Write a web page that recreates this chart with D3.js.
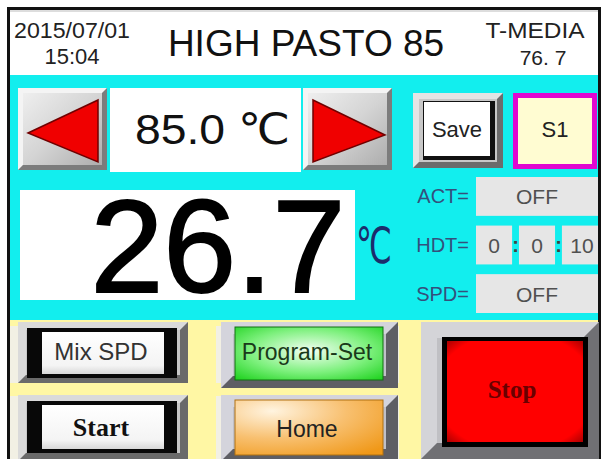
<!DOCTYPE html>
<html><head><meta charset="utf-8">
<script src="https://cdn.jsdelivr.net/npm/d3@7/dist/d3.min.js"></script>
<style>html,body{margin:0;padding:0;background:#fff;}svg{display:block;}</style>
</head><body>
<svg id="c" width="601" height="459"></svg>
<script>
// ---- data ----
const headerDate = ["2015/07/01", "15:04"];
const titleText = ["HIGH PASTO 85"];
const mediaInfo = ["T-MEDIA", "76. 7"];
const setpoint = [85.0];
const currentTemp = [26.7];
const unitLabel = ["℃"];
const statusLabels = ["ACT=", "HDT=", "SPD="];
const statusValues = ["OFF", null, "OFF"];
const hdtValues = ["0", "0", "10"];
const smallButtons = ["Save", "S1"];
const leftButtons = ["Mix SPD", "Start"];
const midButtons = ["Program-Set", "Home"];
const stopButton = ["Stop"];

// ---- drawing ----
const svg = d3.select("#c");
const defs = svg.append("defs");
const F = "'Liberation Sans', Arial, 'DejaVu Sans', sans-serif";
const FS = "'Liberation Serif', 'Times New Roman', serif";

function lin(id, stops, x1=0,y1=0,x2=1,y2=1){
  const g = defs.append("linearGradient").attr("id",id).attr("x1",x1).attr("y1",y1).attr("x2",x2).attr("y2",y2);
  stops.forEach(s=>g.append("stop").attr("offset",s[0]).attr("stop-color",s[1]));
}
function rad(id, stops, cx=0.5, cy=0.5, r=0.7){
  const g = defs.append("radialGradient").attr("id",id).attr("cx",cx).attr("cy",cy).attr("r",r);
  stops.forEach(s=>g.append("stop").attr("offset",s[0]).attr("stop-color",s[1]));
}
lin("arrowFace", [[0,"#f2f2f2"],[0.5,"#d4d4d4"],[1,"#a8a8a8"]]);
rad("greenFace", [[0,"#f4fff4"],[0.55,"#7cf07c"],[1,"#18d018"]], 0.5, 0.45, 0.75);
rad("orangeFace", [[0,"#fff4e0"],[0.5,"#f8c070"],[1,"#f09818"]], 0.25, 0.2, 1.0);
rad("redFace", [[0,"#ff0000"],[0.82,"#ff0000"],[1,"#a00000"]], 0.5, 0.5, 0.72);
lin("whiteFace", [[0,"#ffffff"],[0.8,"#f4f4f4"],[1,"#d8d8d8"]], 0,0,0,1);

function bevel(x,y,w,h,t,light,dark,face){
  const g = svg.append("g");
  g.append("rect").attr("x",x).attr("y",y).attr("width",w).attr("height",h).attr("fill",face);
  g.append("polygon").attr("points",[[x,y],[x+w,y],[x+w-t,y+t],[x+t,y+t],[x+t,y+h-t],[x,y+h]].join(" ")).attr("fill",light);
  g.append("polygon").attr("points",[[x+w,y],[x+w,y+h],[x,y+h],[x+t,y+h-t],[x+w-t,y+h-t],[x+w-t,y+t]].join(" ")).attr("fill",dark);
  return g;
}

// background regions
svg.append("rect").attr("x",10).attr("y",10).attr("width",589).attr("height",66).attr("fill","#ffffff");
svg.append("rect").attr("x",10).attr("y",75).attr("width",589).attr("height",246).attr("fill","#12eeee");
svg.append("rect").attr("x",10).attr("y",320).attr("width",589).attr("height",139).attr("fill","#f2f0e4");
const yel = "#fff7a4";
svg.append("rect").attr("x",10).attr("y",320).attr("width",589).attr("height",6).attr("fill",yel);
svg.append("rect").attr("x",10).attr("y",383).attr("width",410).attr("height",13).attr("fill",yel);
svg.append("rect").attr("x",188).attr("y",320).attr("width",28).attr("height",139).attr("fill",yel);
svg.append("rect").attr("x",399).attr("y",320).attr("width",22).attr("height",139).attr("fill",yel);

// frame
svg.append("path").attr("d","M8.5,470 V8.5 H599.5 V470").attr("fill","none").attr("stroke","#111").attr("stroke-width",3);
svg.append("line").attr("x1",10).attr("x2",598).attr("y1",11).attr("y2",11).attr("stroke","#bbb");

// header
const hdr = svg.append("g").attr("font-family",F).attr("fill","#222");
hdr.selectAll("text.d").data(headerDate).join("text").attr("class","d")
  .attr("x",72).attr("y",(d,i)=>[38,64][i]).attr("text-anchor","middle")
  .attr("font-size",22).attr("textLength",(d,i)=>[116,null][i]).attr("lengthAdjust","spacingAndGlyphs").text(d=>d);
hdr.selectAll("text.t").data(titleText).join("text").attr("class","t")
  .attr("x",306).attr("y",56).attr("text-anchor","middle").attr("font-size",37).attr("fill","#111").text(d=>d);
hdr.selectAll("text.m").data(mediaInfo).join("text").attr("class","m")
  .attr("x",(d,i)=>[535,543][i]).attr("y",(d,i)=>[38,65][i]).attr("text-anchor","middle")
  .attr("font-size",(d,i)=>[22,21][i]).attr("textLength",(d,i)=>[99,null][i]).attr("lengthAdjust","spacingAndGlyphs").text(d=>d);

// arrow buttons
function arrowBtn(x,y,w,h,dir){
  bevel(x,y,w,h,5,"#f4f4f4","#7c7c7c","url(#arrowFace)");
  const pts = dir<0 ? [[x+10,y+45],[x+80,y+12],[x+80,y+74]] : [[x+w-7,y+47],[x+10,y+12],[x+10,y+74]];
  svg.append("polygon").attr("points",pts.join(" ")).attr("fill","#f00000").attr("stroke","#700000").attr("stroke-width",1.5);
}
arrowBtn(18,88,89,82,-1);
arrowBtn(303,88,89,82,1);
svg.append("rect").attr("x",110).attr("y",88).attr("width",191).attr("height",84).attr("fill","#ffffff");
svg.append("text").attr("x",135).attr("y",144).attr("font-family",F).attr("font-size",43).attr("fill","#111")
  .attr("textLength",155).attr("lengthAdjust","spacingAndGlyphs")
  .text(setpoint[0].toFixed(1)+" "+unitLabel[0]);

// Save button
bevel(413,93,90,75,6,"#e4e4e4","#6c6c6c","#c8c8c8");
svg.append("rect").attr("x",423).attr("y",101).attr("width",72).attr("height",59).attr("fill","#111");
svg.append("rect").attr("x",424).attr("y",102).attr("width",66).attr("height",54).attr("fill","#ffffff");
// S1 button
svg.append("rect").attr("x",515.5).attr("y",95.5).attr("width",79).attr("height",71).attr("fill","#fffcd2").attr("stroke","#e008d0").attr("stroke-width",5);
svg.selectAll("text.sb").data(smallButtons).join("text").attr("class","sb")
  .attr("x",(d,i)=>[457,555][i]).attr("y",137).attr("text-anchor","middle")
  .attr("font-family",F).attr("font-size",22).attr("fill","#222").text(d=>d);

// big temperature
svg.append("rect").attr("x",20).attr("y",190).attr("width",335).attr("height",110).attr("fill","#ffffff");
svg.append("text").attr("x",218).attr("y",292).attr("text-anchor","middle").attr("font-family",F)
  .attr("font-size",131).attr("fill","#000").attr("stroke","#000").attr("stroke-width",2)
  .text(currentTemp[0].toFixed(1));
svg.append("text").attr("x",356).attr("y",263).attr("font-family",F).attr("font-size",50).attr("fill","#1c2c6c")
  .attr("textLength",36).attr("lengthAdjust","spacingAndGlyphs").text(unitLabel[0]);

// status rows
const yRow = d3.scaleBand().domain(statusLabels).range([177,313]).paddingInner(0.2);
const st = svg.append("g").attr("font-family",F);
st.selectAll("text.l").data(statusLabels).join("text").attr("class","l")
  .attr("x",469).attr("y",d=>yRow(d)+yRow.bandwidth()/2+7).attr("text-anchor","end")
  .attr("font-size",20).attr("fill","#34507c").text(d=>d);
const xBox = d3.scaleBand().domain(hdtValues.map((d,i)=>i)).range([476,598]).paddingInner(0.16);
statusLabels.forEach((lab,i)=>{
  const y0 = yRow(lab), bh = yRow.bandwidth();
  if (statusValues[i] !== null) {
    st.append("rect").attr("x",476).attr("y",y0).attr("width",122).attr("height",bh).attr("fill","#e6e6e6");
    st.append("text").attr("x",537).attr("y",y0+bh/2+8).attr("text-anchor","middle").attr("font-size",21).attr("fill","#505050").text(statusValues[i]);
  } else {
    hdtValues.forEach((v,j)=>{
      st.append("rect").attr("x",xBox(j)).attr("y",y0).attr("width",xBox.bandwidth()).attr("height",bh).attr("fill","#e6e6e6");
      st.append("text").attr("x",xBox(j)+xBox.bandwidth()/2+(j===2?2:0)).attr("y",y0+bh/2+8).attr("text-anchor","middle")
        .attr("font-size",21).attr("fill","#505050").text(v);
      if (j<2) st.append("text").attr("x",xBox(j)+xBox.bandwidth()+xBox.step()*0.08).attr("y",y0+bh/2+7).attr("text-anchor","middle")
        .attr("font-size",20).attr("font-weight","bold").attr("fill","#404040").text(":");
    });
  }
});

// bottom buttons
const rowY = [322, 395];
leftButtons.forEach((t,i)=>{
  const y = rowY[i];
  bevel(18,y,170,i?66:61,8,"#dadada","#6a6a6a","#c8c8c8");
  svg.append("rect").attr("x",27).attr("y",y+6).attr("width",150).attr("height",i?52:50).attr("fill","#080808");
  svg.append("rect").attr("x",42).attr("y",y+10).attr("width",122).attr("height",i?44:42).attr("fill","url(#whiteFace)");
  svg.append("text").attr("x",101).attr("y",y+(i?41:38)).attr("text-anchor","middle")
    .attr("font-family",i?FS:F).attr("font-weight",i?"bold":"normal")
    .attr("font-size",i?26:24).attr("fill",i?"#111":"#333").text(t);
});
midButtons.forEach((t,i)=>{
  const y = rowY[i];
  bevel(221,y,177,66,12,"#d4d4dc","#5e5e64","#c0c0c8");
  svg.append("rect").attr("x",235).attr("y",y+5).attr("width",148).attr("height",i?55:53).attr("fill",i?"url(#orangeFace)":"url(#greenFace)")
    .attr("stroke",i?"#b07010":"#107010").attr("stroke-width",1);
  svg.append("text").attr("x",307).attr("y",y+(i?42:38)).attr("text-anchor","middle").attr("font-family",F)
    .attr("font-size",23).attr("fill",i?"#222":"#1a3a1a").text(t);
});
bevel(421,322,178,137,16,"#d4d4d8","#707074","#c0c0c4");
svg.append("rect").attr("x",442).attr("y",337).attr("width",146).attr("height",110).attr("fill","#000");
svg.append("rect").attr("x",447).attr("y",341).attr("width",136).attr("height",101).attr("fill","url(#redFace)");
svg.append("text").attr("x",512).attr("y",398).attr("text-anchor","middle").attr("font-family",FS).attr("font-weight","bold")
  .attr("font-size",25).attr("fill","#6a0000").text(stopButton[0]);
</script>
</body></html>
